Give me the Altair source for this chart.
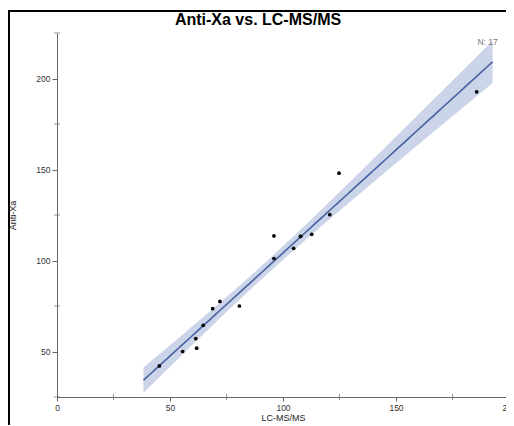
import altair as alt
import numpy as np
import pandas as pd

lcms = [45.3, 55.6, 61.8, 61.4, 64.7, 68.9, 72.1, 80.7, 96.0, 96.0, 104.7, 107.8, 107.8, 112.7, 120.7, 124.8, 185.7]
antixa = [42.1, 50.0, 51.8, 57.1, 64.4, 73.5, 77.5, 75.0, 101.1, 113.5, 106.7, 113.3, 113.3, 114.4, 125.2, 148.0, 192.7]
n_label = "N: 17"
x_major = [0, 50, 100, 150, 200]
x_minor = [25, 75, 125, 175]
y_major = [50, 100, 150, 200]
y_minor = [25, 75, 125, 175, 225]

pts = pd.DataFrame({"x": lcms, "y": antixa})

# Linear regression with 95% confidence band
x = np.array(lcms)
y = np.array(antixa)
n = len(x)
b, a = np.polyfit(x, y, 1)
res = y - (a + b * x)
s = np.sqrt(np.sum(res ** 2) / (n - 2))
sxx = np.sum((x - x.mean()) ** 2)
t = 2.131
rng = x.max() - x.min()
xs = np.linspace(x.min() - 0.05 * rng, x.max() + 0.05 * rng, 60)
yh = a + b * xs
se = s * np.sqrt(1.0 / n + (xs - x.mean()) ** 2 / sxx)
fit = pd.DataFrame({"x": xs, "y": yh, "lo": yh - t * se, "hi": yh + t * se})
lab = pd.DataFrame({"x": [xs[-1]], "y": [yh[-1] + t * se[-1]], "t": [n_label]})

xsc = alt.Scale(domain=[0, 200], nice=False, zero=False)
ysc = alt.Scale(domain=[25, 225], nice=False, zero=False)

xax = alt.Axis(values=x_major, title="LC-MS/MS", tickSize=4, labelPadding=2, titlePadding=2,
               grid=False, labelFlush=False)
yax = alt.Axis(values=y_major, title="Anti-Xa", tickSize=5, labelPadding=2, titlePadding=18,
               grid=False)

band = alt.Chart(fit).mark_area(color="#c8d2e7", opacity=0.95).encode(
    x=alt.X("x:Q", scale=xsc, axis=xax),
    y=alt.Y("lo:Q", scale=ysc, axis=yax),
    y2="hi:Q",
)
line = alt.Chart(fit).mark_line(color="#4862a0", strokeWidth=1.6).encode(
    x=alt.X("x:Q", scale=xsc), y=alt.Y("y:Q", scale=ysc)
)
dots = alt.Chart(pts).mark_circle(color="black", size=14, opacity=1).encode(
    x=alt.X("x:Q", scale=xsc), y=alt.Y("y:Q", scale=ysc)
)
text = alt.Chart(lab).mark_text(fontSize=8.5, color="#777", font="Liberation Sans", dx=-5, dy=1).encode(
    x=alt.X("x:Q", scale=xsc), y=alt.Y("y:Q", scale=ysc), text="t:N"
)
xminor = alt.Chart(pd.DataFrame({"x": x_minor})).mark_tick(
    orient="vertical", size=6, thickness=1, color="#666").encode(
    x=alt.X("x:Q", scale=xsc), y=alt.value(364)
)
yminor = alt.Chart(pd.DataFrame({"y": y_minor})).mark_tick(
    orient="horizontal", size=6, thickness=1, color="#666").encode(
    y=alt.Y("y:Q", scale=ysc), x=alt.value(0)
)
frame_left = alt.Chart(pd.DataFrame({"k": [0]})).mark_rule(color="black", strokeWidth=2, clip=False).encode(
    x=alt.value(-48), y=alt.value(-22), y2=alt.value(400)
)
frame_top = alt.Chart(pd.DataFrame({"k": [0]})).mark_rule(color="black", strokeWidth=2, clip=False).encode(
    x=alt.value(-49), x2=alt.value(460), y=alt.value(-22)
)

chart = alt.layer(band, line, dots, text, xminor, yminor, frame_left, frame_top).properties(
    width=452, height=364,
    title=alt.TitleParams("Anti-Xa vs. LC-MS/MS", fontSize=16, fontWeight="bold", font="Liberation Sans",
                          color="black", dx=-25, dy=18, offset=0, anchor="middle", frame="group"),
    autosize=alt.AutoSizeParams(type="none"),
    padding={"left": 49, "top": 25, "right": -3, "bottom": 28},
).configure_view(stroke=None).configure_axis(
    domainColor="#666", tickColor="#666", labelColor="#333", titleColor="#222",
    labelFont="Liberation Sans", titleFont="Liberation Sans", labelFontSize=8.5, titleFontSize=9,
    titleFontWeight="normal",
)

chart.save("out.html", embed_options={"renderer": "svg", "actions": False})
